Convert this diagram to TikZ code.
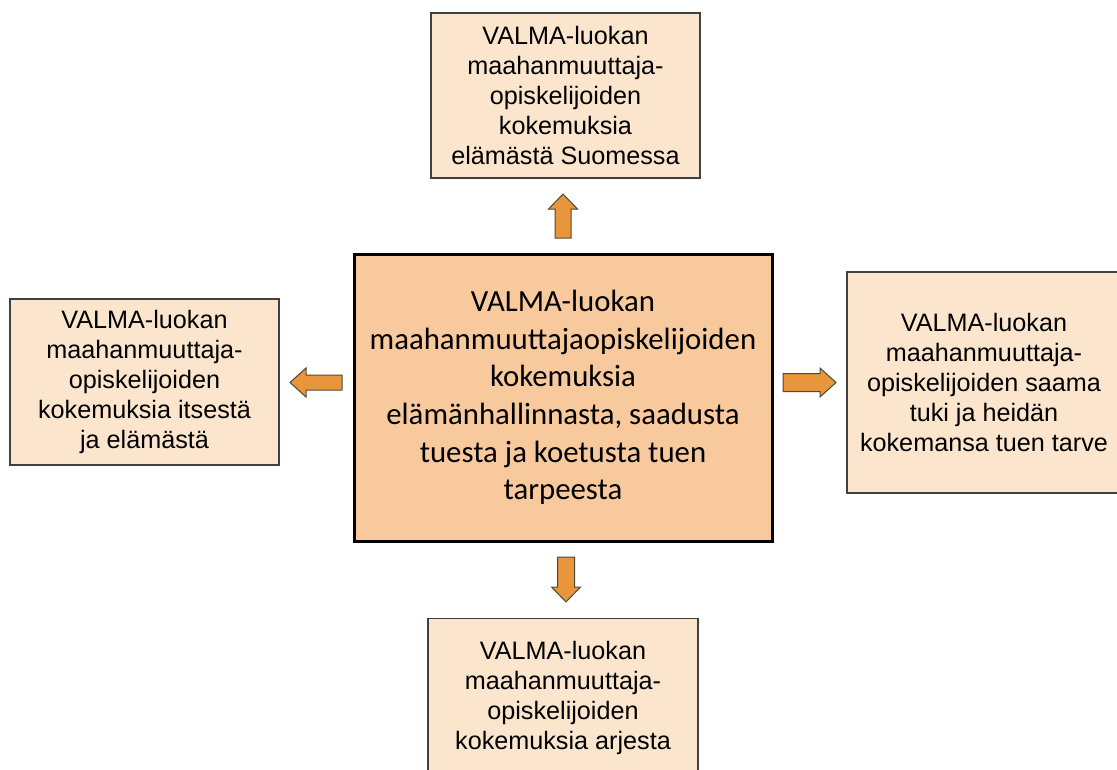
\documentclass[tikz,border=0pt]{standalone}
\usepackage{fontspec}
\setmainfont{Liberation Sans}
\newfontfamily\calfont{Carlito}
\definecolor{centerfill}{HTML}{F8C99C}
\definecolor{outerfill}{HTML}{FCE5CD}
\definecolor{arrowfill}{HTML}{E8953C}
\definecolor{arrowline}{HTML}{4A4A3A}
\definecolor{boxline}{HTML}{404040}
\begin{document}
\begin{tikzpicture}[x=1pt,y=-1pt,
  outerbox/.style={draw=boxline,line width=1.3pt,fill=outerfill,align=center,inner sep=0pt,
    font=\fontsize{25.2}{30}\selectfont},
  centerbox/.style={draw=black,line width=3pt,fill=centerfill,align=center,inner sep=0pt,
    font=\calfont\fontsize{30.8}{37.6}\selectfont},
  blockarrow/.style={draw=arrowline,line width=1pt,fill=arrowfill,line join=miter}]
\useasboundingbox (0,0) rectangle (1117,769);
% central box
\node[centerbox,minimum width=418pt,minimum height=287pt] (center) at (563,397.5)
  {VALMA-luokan\\maahanmuuttajaopiskelijoiden\\kokemuksia\\elämänhallinnasta, saadusta\\tuesta ja koetusta tuen\\tarpeesta};
% top box
\node[outerbox,minimum width=269pt,minimum height=165pt] (top) at (565.5,95.5)
  {VALMA-luokan\\maahanmuuttaja-\\opiskelijoiden\\kokemuksia\\elämästä Suomessa};
% left box
\node[outerbox,minimum width=269pt,minimum height=166pt] (left) at (144.5,382)
  {VALMA-luokan\\maahanmuuttaja-\\opiskelijoiden\\kokemuksia itsestä\\ja elämästä};
% right box (extends beyond the page)
\node[outerbox,minimum width=274pt,minimum height=221pt] (right) at (984,382.5)
  {VALMA-luokan\\maahanmuuttaja-\\opiskelijoiden saama\\tuki ja heidän\\kokemansa tuen tarve};
% bottom box (extends beyond the page)
\node[outerbox,anchor=north,minimum width=270pt,inner ysep=23pt] (bottom) at (563,618)
  {VALMA-luokan\\maahanmuuttaja-\\opiskelijoiden\\kokemuksia arjesta\\[40pt]\strut};
% block arrows
\draw[blockarrow] (563,194) -- (577.5,209) -- (571,209) -- (571,238) -- (555,238) -- (555,209) -- (548.5,209) -- cycle;
\draw[blockarrow] (566,602) -- (580.5,587) -- (574.5,587) -- (574.5,557) -- (557.5,557) -- (557.5,587) -- (551.5,587) -- cycle;
\draw[blockarrow] (290,382.5) -- (306,368) -- (306,375) -- (342,375) -- (342,390) -- (306,390) -- (306,397) -- cycle;
\draw[blockarrow] (836,382.5) -- (820,368) -- (820,373.5) -- (783,373.5) -- (783,391.5) -- (820,391.5) -- (820,397) -- cycle;
\end{tikzpicture}
\end{document}
